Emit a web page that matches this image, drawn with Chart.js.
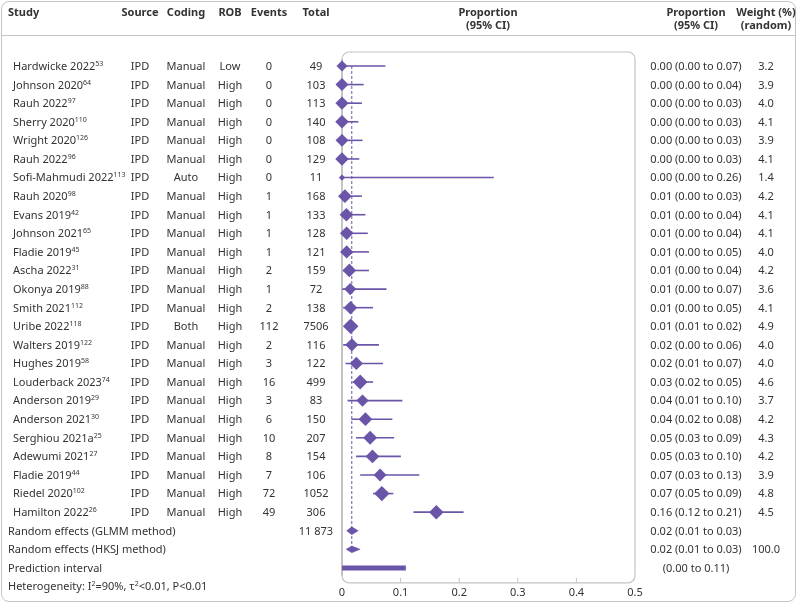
<!DOCTYPE html>
<html>
<head>
<meta charset="utf-8">
<script src="https://cdn.jsdelivr.net/npm/chart.js@4.4.1/dist/chart.umd.min.js"></script>
<style>
  body { margin: 0; background: #fff; }
  #wrap { position: relative; width: 800px; height: 605px; font-family: "Noto Sans", sans-serif; font-size: 11px; color: #333; }
  #frame { position: absolute; left: 1px; top: 1px; width: 795px; height: 601px; border: 1px solid #c4c4c4; border-radius: 8px; box-sizing: border-box; }
  #divider { position: absolute; left: 1px; top: 35px; width: 795px; height: 1px; background: #c4c4c4; }
  canvas { position: absolute; left: 0; top: 0; }
  .c { position: absolute; height: 16px; line-height: 16px; white-space: nowrap; }
  .b { font-weight: bold; }
  sup { font-size: 7px; vertical-align: baseline; position: relative; top: -4px; }
</style>
</head>
<body>
<div id="wrap">
  <div id="frame"></div>
  <div id="divider"></div>
  <canvas id="forest" width="800" height="605"></canvas>
</div>
<script>
// study rows, top to bottom
var studies = ['Hardwicke 2022', 'Johnson 2020', 'Rauh 2022', 'Sherry 2020', 'Wright 2020', 'Rauh 2022',
  'Sofi-Mahmudi 2022', 'Rauh 2020', 'Evans 2019', 'Johnson 2021', 'Fladie 2019', 'Ascha 2022', 'Okonya 2019',
  'Smith 2021', 'Uribe 2022', 'Walters 2019', 'Hughes 2019', 'Louderback 2023', 'Anderson 2019',
  'Anderson 2021', 'Serghiou 2021a', 'Adewumi 2021', 'Fladie 2019', 'Riedel 2020', 'Hamilton 2022'];
var refs = ['53', '64', '97', '110', '126', '96', '113', '98', '42', '65', '45', '31', '88', '112', '118',
  '122', '58', '74', '29', '30', '25', '27', '44', '102', '26'];
var sources = ['IPD', 'IPD', 'IPD', 'IPD', 'IPD', 'IPD', 'IPD', 'IPD', 'IPD', 'IPD', 'IPD', 'IPD', 'IPD',
  'IPD', 'IPD', 'IPD', 'IPD', 'IPD', 'IPD', 'IPD', 'IPD', 'IPD', 'IPD', 'IPD', 'IPD'];
var coding = ['Manual', 'Manual', 'Manual', 'Manual', 'Manual', 'Manual', 'Auto', 'Manual', 'Manual',
  'Manual', 'Manual', 'Manual', 'Manual', 'Manual', 'Both', 'Manual', 'Manual', 'Manual', 'Manual',
  'Manual', 'Manual', 'Manual', 'Manual', 'Manual', 'Manual'];
var rob = ['Low', 'High', 'High', 'High', 'High', 'High', 'High', 'High', 'High', 'High', 'High', 'High',
  'High', 'High', 'High', 'High', 'High', 'High', 'High', 'High', 'High', 'High', 'High', 'High', 'High'];
var events = [0, 0, 0, 0, 0, 0, 0, 1, 1, 1, 1, 2, 1, 2, 112, 2, 3, 16, 3, 6, 10, 8, 7, 72, 49];
var totals = [49, 103, 113, 140, 108, 129, 11, 168, 133, 128, 121, 159, 72, 138, 7506, 116, 122, 499,
  83, 150, 207, 154, 106, 1052, 306];

// plotted proportions and 95% CI
var estimates = [0, 0, 0, 0, 0, 0, 0, 0.005, 0.0075, 0.008, 0.008, 0.0125, 0.014, 0.0145, 0.0148,
  0.0168, 0.0245, 0.031, 0.035, 0.040, 0.048, 0.052, 0.065, 0.068, 0.161];
var lower = [0, 0, 0, 0, 0, 0, 0, 0.0002, 0.0002, 0.0002, 0.0002, 0.0015, 0.0004, 0.0018, 0.0122,
  0.002, 0.006, 0.018, 0.0095, 0.016, 0.024, 0.024, 0.031, 0.053, 0.122];
var upper = [0.074, 0.037, 0.034, 0.028, 0.035, 0.0295, 0.259, 0.034, 0.040, 0.044, 0.046, 0.046,
  0.076, 0.053, 0.018, 0.063, 0.070, 0.053, 0.103, 0.086, 0.089, 0.1005, 0.132, 0.0875, 0.2075];
var ciText = ['0.00 (0.00 to 0.07)', '0.00 (0.00 to 0.04)', '0.00 (0.00 to 0.03)', '0.00 (0.00 to 0.03)',
  '0.00 (0.00 to 0.03)', '0.00 (0.00 to 0.03)', '0.00 (0.00 to 0.26)', '0.01 (0.00 to 0.03)',
  '0.01 (0.00 to 0.04)', '0.01 (0.00 to 0.04)', '0.01 (0.00 to 0.05)', '0.01 (0.00 to 0.04)',
  '0.01 (0.00 to 0.07)', '0.01 (0.00 to 0.05)', '0.01 (0.01 to 0.02)', '0.02 (0.00 to 0.06)',
  '0.02 (0.01 to 0.07)', '0.03 (0.02 to 0.05)', '0.04 (0.01 to 0.10)', '0.04 (0.02 to 0.08)',
  '0.05 (0.03 to 0.09)', '0.05 (0.03 to 0.10)', '0.07 (0.03 to 0.13)', '0.07 (0.05 to 0.09)',
  '0.16 (0.12 to 0.21)'];
var weights = [3.2, 3.9, 4.0, 4.1, 3.9, 4.1, 1.4, 4.2, 4.1, 4.1, 4.0, 4.2, 3.6, 4.1, 4.9, 4.0, 4.0, 4.6,
  3.7, 4.2, 4.3, 4.2, 3.9, 4.8, 4.5];

// pooled rows
var summaryLabels = ['Random effects (GLMM method)', 'Random effects (HKSJ method)', 'Prediction interval'];
var summaryTotal = '11 873';
var summaryText = ['0.02 (0.01 to 0.03)', '0.02 (0.01 to 0.03)', '(0.00 to 0.11)'];
var summaryWeight = ['', '100.0', ''];
var glmm = [0.008, 0.0167, 0.0278];
var hksj = [0.007, 0.0167, 0.031];
var predInt = [0, 0.109];
var heterogeneity = 'Heterogeneity: I<sup>2</sup>=90%, \u03c4<sup>2</sup>&lt;0.01, P&lt;0.01';

var xTicks = [0, 0.1, 0.2, 0.3, 0.4, 0.5];

var purple = '#6a55a9';
var wrap = document.getElementById('wrap');

function rowY(i) { return 66 + 18.58 * i; }

function cell(html, x, y, align, cls) {
  var d = document.createElement('div');
  d.className = 'c' + (cls ? ' ' + cls : '');
  d.innerHTML = html;
  d.style.top = (y - 8) + 'px';
  if (align == 'center') {
    d.style.left = (x - 100) + 'px';
    d.style.width = '200px';
    d.style.textAlign = 'center';
  } else {
    d.style.left = x + 'px';
  }
  wrap.appendChild(d);
}

// header
cell('Study', 8, 12, 'left', 'b');
cell('Source', 140, 12, 'center', 'b');
cell('Coding', 186, 12, 'center', 'b');
cell('ROB', 230, 12, 'center', 'b');
cell('Events', 269, 12, 'center', 'b');
cell('Total', 316, 12, 'center', 'b');
cell('Proportion', 488, 12, 'center', 'b');
cell('(95% CI)', 488, 25, 'center', 'b');
cell('Proportion', 696, 12, 'center', 'b');
cell('(95% CI)', 696, 25, 'center', 'b');
cell('Weight (%)', 766, 12, 'center', 'b');
cell('(random)', 766, 25, 'center', 'b');

for (var i = 0; i < studies.length; i++) {
  var y = rowY(i);
  cell(studies[i] + '<sup>' + refs[i] + '</sup>', 13, y, 'left');
  cell(sources[i], 140, y, 'center');
  cell(coding[i], 186, y, 'center');
  cell(rob[i], 230, y, 'center');
  cell(events[i], 269, y, 'center');
  cell(totals[i], 316, y, 'center');
  cell(ciText[i], 696, y, 'center');
  cell(weights[i].toFixed(1), 766, y, 'center');
}
for (var j = 0; j < summaryLabels.length; j++) {
  var ys = rowY(studies.length + j);
  cell(summaryLabels[j], 8, ys, 'left');
  cell(summaryText[j], 696, ys, 'center');
  if (summaryWeight[j]) cell(summaryWeight[j], 766, ys, 'center');
}
cell(summaryTotal, 316, rowY(studies.length), 'center');
cell(heterogeneity, 8, rowY(studies.length + 3), 'left');

// datasets
var nS = studies.length;
var datasets = [];

// dashed line at pooled estimate
datasets.push({
  data: [{x: glmm[1], y: 0}, {x: glmm[1], y: nS + 1}],
  showLine: true, borderColor: purple, borderWidth: 1, borderDash: [3, 2],
  pointRadius: 0, clip: false
});

for (var k = 0; k < nS; k++) {
  datasets.push({
    data: [{x: lower[k], y: k}, {x: upper[k], y: k}],
    showLine: true, borderColor: purple, borderWidth: 1.6,
    pointRadius: 0, clip: false
  });
}

datasets.push({
  data: estimates.map(function (e, i) { return {x: e, y: i}; }),
  pointStyle: 'rectRot',
  pointRadius: function (ctx) { return 1.2 + 1.35 * weights[ctx.dataIndex]; },
  pointBackgroundColor: purple, pointBorderWidth: 0, clip: false
});

function addDiamond(vals, row, half) {
  datasets.push({
    data: [{x: vals[0], y: row}, {x: vals[1], y: row - half}, {x: vals[2], y: row}],
    showLine: true, borderColor: purple, borderWidth: 0.5, backgroundColor: purple,
    pointRadius: 0, fill: false, tension: 0, clip: false
  });
  datasets.push({
    data: [{x: vals[0], y: row}, {x: vals[1], y: row + half}, {x: vals[2], y: row}],
    showLine: true, borderColor: purple, borderWidth: 0.5, backgroundColor: purple,
    pointRadius: 0, fill: '-1', tension: 0, clip: false
  });
}
addDiamond(glmm, nS, 0.21);
addDiamond(hksj, nS + 1, 0.18);

datasets.push({
  data: [{x: predInt[0], y: nS + 2}, {x: predInt[1], y: nS + 2}],
  showLine: true, borderColor: purple, borderWidth: 5, borderCapStyle: 'butt',
  pointRadius: 0, clip: false
});

var plotBox = {
  id: 'plotBox',
  beforeDatasetsDraw: function (chart) {
    var a = chart.chartArea, ctx = chart.ctx;
    ctx.save();
    ctx.strokeStyle = '#c4c4c4';
    ctx.lineWidth = 1.2;
    ctx.beginPath();
    ctx.roundRect(a.left, a.top, a.right - a.left, a.bottom - a.top, 7);
    ctx.stroke();
    ctx.lineWidth = 2;
    ctx.beginPath();
    ctx.moveTo(a.left, a.top + 7);
    ctx.lineTo(a.left, a.bottom - 7);
    ctx.stroke();
    // small inner ticks
    var sx = chart.scales.x;
    ctx.lineWidth = 1;
    xTicks.slice(1, -1).forEach(function (t) {
      var px = sx.getPixelForValue(t);
      ctx.beginPath();
      ctx.moveTo(px, a.bottom);
      ctx.lineTo(px, a.bottom - 5);
      ctx.stroke();
    });
    ctx.restore();
  }
};

new Chart(document.getElementById('forest'), {
  type: 'scatter',
  data: {datasets: datasets},
  options: {
    responsive: false,
    animation: false,
    devicePixelRatio: 1,
    layout: {padding: {left: 342, right: 165, top: 52, bottom: 3}},
    plugins: {legend: {display: false}, tooltip: {enabled: false}},
    scales: {
      x: {
        type: 'linear', min: 0, max: 0.5,
        afterBuildTicks: function (s) { s.ticks = xTicks.map(function (v) { return {value: v}; }); },
        grid: {display: false, drawTicks: false},
        border: {display: false},
        ticks: {color: '#333', font: {family: 'Noto Sans', size: 11}, padding: 3}
      },
      y: {
        type: 'linear', min: -0.753, max: 27.8, reverse: true, display: false
      }
    }
  },
  plugins: [plotBox]
});
</script>
</body>
</html>
